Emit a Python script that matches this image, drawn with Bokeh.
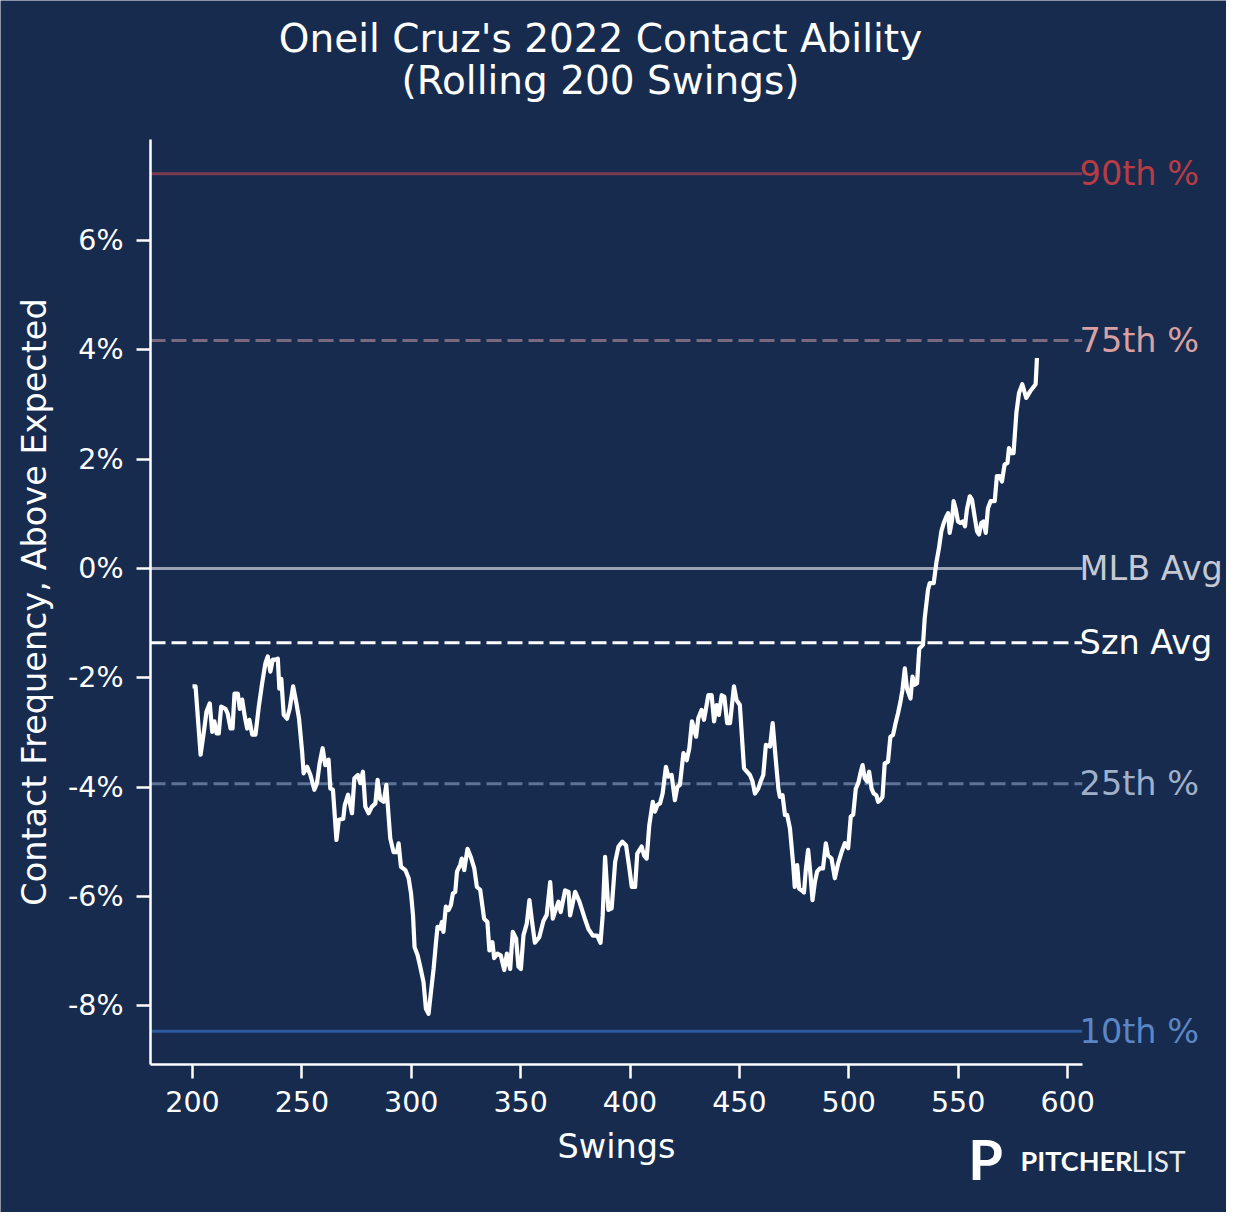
from bokeh.plotting import figure
from bokeh.models import Label, Range1d, FixedTicker, CustomJSTickFormatter
from bokeh.embed import file_html
from bokeh.resources import INLINE

BG = "#172b4f"
FONT = "DejaVu Sans"

title_lines = ["Oneil Cruz's 2022 Contact Ability", "(Rolling 200 Swings)"]
x_label = "Swings"
y_label = "Contact Frequency, Above Expected"

x_ticks = [200, 250, 300, 350, 400, 450, 500, 550, 600]
y_ticks = [-8, -6, -4, -2, 0, 2, 4, 6]
x_bounds = (180.8, 606.7)
y_bounds = (-9.078, 7.843)

swings = [
    200.0, 201.4, 203.7, 205.2, 206.4, 207.9, 209.0, 210.0, 211.0, 212.0, 213.1, 215.1, 216.1, 217.4, 218.3,
    219.2, 220.7, 221.6, 222.7, 223.9, 225.0, 226.0, 227.3, 228.8, 230.3, 231.8, 233.3, 234.4, 235.6, 236.7,
    238.0, 239.0, 239.7, 240.6, 241.7, 243.2, 244.4, 246.0, 247.5, 248.7, 250.1, 250.8, 252.4, 253.9, 255.7,
    256.9, 258.1, 259.5, 260.7, 262.2, 263.0, 264.2, 265.8, 266.9, 268.9, 269.6, 271.1, 272.9, 274.0, 275.6,
    276.7, 277.9, 279.0, 280.5, 282.0, 283.6, 284.6, 285.8, 287.4, 288.6, 289.2, 290.4, 291.9, 293.5, 294.2,
    295.3, 297.3, 298.8, 299.9, 300.8, 301.5, 302.9, 304.1, 305.6, 306.7, 307.9, 309.0, 310.2, 311.3, 312.0,
    313.2, 314.0, 314.7, 315.8, 317.0, 318.1, 319.0, 320.1, 320.9, 322.4, 323.1, 324.2, 325.7, 327.2, 328.8,
    330.0, 331.5, 333.3, 334.8, 335.7, 337.1, 337.9, 339.4, 340.9, 342.5, 343.7, 345.2, 346.4, 347.9, 349.0,
    350.1, 351.3, 352.8, 354.0, 355.1, 356.5, 358.5, 360.4, 361.9, 363.5, 364.7, 366.2, 367.3, 368.3, 370.3,
    371.9, 372.6, 374.9, 376.9, 379.5, 381.0, 383.0, 385.0, 386.5, 387.5, 388.6, 390.1, 391.6, 393.2, 394.7,
    396.5, 398.2, 399.7, 400.8, 402.3, 403.3, 405.3, 406.4, 407.6, 408.8, 410.4, 411.4, 412.5, 413.7, 414.9,
    416.4, 417.5, 419.0, 420.5, 421.6, 422.8, 424.4, 425.9, 427.1, 428.3, 430.2, 431.2, 432.7, 433.8, 435.8,
    437.3, 438.4, 439.6, 440.6, 441.9, 443.1, 444.4, 445.7, 447.5, 448.7, 450.2, 452.1, 454.8, 456.0, 457.1,
    458.6, 459.7, 460.9, 462.1, 464.0, 465.2, 466.7, 467.8, 468.5, 469.7, 470.8, 471.8, 473.1, 473.8, 474.6,
    475.3, 476.4, 477.3, 478.4, 479.5, 480.4, 481.4, 482.5, 483.4, 484.5, 485.5, 486.8, 488.2, 489.5, 490.5,
    492.1, 493.6, 495.1, 496.7, 498.2, 499.7, 500.9, 502.0, 503.2, 504.3, 505.3, 506.3, 507.3, 508.4, 509.3,
    510.4, 511.4, 512.6, 513.4, 514.4, 515.4, 516.4, 517.9, 519.0, 520.2, 521.4, 522.5, 523.6, 524.5, 525.6,
    526.6, 528.2, 529.1, 530.1, 531.2, 532.2, 533.9, 534.7, 536.2, 537.0, 538.8, 540.0, 541.2, 542.3, 543.4,
    544.6, 545.4, 546.1, 547.2, 547.9, 548.9, 549.9, 551.0, 552.2, 553.1, 554.0, 555.3, 556.3, 557.5, 558.6,
    559.5, 560.6, 561.6, 562.6, 563.6, 564.8, 566.7, 567.7, 568.9, 570.0, 571.2, 572.5, 573.2, 574.3, 575.3,
    576.6, 577.8, 579.3, 581.1, 582.9, 585.4, 586.0,
]

contact_pct = [
    -2.16, -2.16, -3.41, -2.99, -2.62, -2.47, -2.99, -2.80, -3.02, -3.02, -2.53, -2.57, -2.66, -2.93, -2.93,
    -2.29, -2.29, -2.57, -2.40, -2.71, -2.93, -2.77, -3.04, -3.04, -2.53, -2.11, -1.74, -1.61, -1.89, -1.67,
    -1.67, -1.65, -2.20, -2.02, -2.68, -2.75, -2.57, -2.16, -2.47, -2.75, -3.35, -3.75, -3.63, -3.78, -4.05,
    -3.93, -3.57, -3.29, -3.60, -3.50, -4.03, -4.05, -4.97, -4.60, -4.58, -4.33, -4.14, -4.48, -3.84, -3.78,
    -3.93, -3.72, -4.36, -4.48, -4.36, -4.30, -3.87, -4.23, -4.27, -3.96, -4.30, -4.94, -5.19, -5.19, -5.03,
    -5.46, -5.52, -5.67, -5.95, -6.35, -6.93, -7.08, -7.29, -7.57, -8.06, -8.15, -7.75, -7.33, -6.84, -6.56,
    -6.59, -6.47, -6.65, -6.19, -6.25, -6.16, -5.95, -5.92, -5.55, -5.42, -5.31, -5.52, -5.13, -5.28, -5.49,
    -5.83, -5.88, -6.41, -6.47, -6.99, -6.84, -7.13, -7.05, -7.08, -7.35, -7.05, -7.33, -6.65, -6.77, -7.29,
    -7.33, -6.71, -6.50, -6.07, -6.43, -6.85, -6.75, -6.45, -6.34, -5.74, -6.41, -6.22, -6.10, -6.29, -5.89,
    -5.92, -6.35, -5.92, -6.10, -6.43, -6.60, -6.72, -6.72, -6.85, -6.35, -5.28, -6.25, -6.22, -5.37, -5.09,
    -5.00, -5.07, -5.49, -5.83, -5.83, -5.22, -5.09, -5.25, -5.31, -4.70, -4.27, -4.45, -4.33, -4.30, -4.12,
    -3.63, -3.81, -3.78, -4.24, -4.00, -3.96, -3.38, -3.51, -3.29, -2.80, -3.08, -2.74, -2.59, -2.77, -2.32,
    -2.32, -2.80, -2.50, -2.68, -2.32, -2.35, -2.83, -2.83, -2.16, -2.41, -2.50, -3.66, -3.78, -3.90, -4.12,
    -4.03, -3.90, -3.78, -3.23, -3.26, -2.83, -3.54, -4.03, -4.18, -4.15, -4.51, -4.51, -4.76, -5.07, -5.43,
    -5.83, -5.43, -5.86, -5.89, -5.93, -5.49, -5.15, -5.61, -6.07, -5.74, -5.55, -5.49, -5.49, -5.03, -5.25,
    -5.31, -5.67, -5.40, -5.19, -5.03, -5.12, -4.54, -4.51, -4.03, -3.93, -3.75, -3.60, -3.84, -3.90, -3.72,
    -4.03, -4.12, -4.15, -4.27, -4.24, -4.18, -3.57, -3.54, -3.08, -3.05, -2.83, -2.65, -2.44, -2.23, -1.83,
    -2.20, -2.38, -1.98, -2.13, -2.10, -1.47, -1.40, -0.91, -0.39, -0.27, -0.27, 0.10, 0.37, 0.68, 0.83,
    0.95, 1.01, 0.65, 0.89, 1.23, 1.08, 0.86, 0.83, 0.86, 0.77, 1.08, 1.32, 1.26, 0.95, 0.68,
    0.62, 0.83, 0.86, 0.65, 1.10, 1.23, 1.23, 1.69, 1.69, 1.59, 1.90, 1.93, 2.20, 2.11, 2.11,
    2.85, 3.21, 3.37, 3.12, 3.24, 3.37, 3.85,
]

ref_names = ["90th %", "75th %", "MLB Avg", "Szn Avg", "25th %", "10th %"]
ref_values = [7.22, 4.17, 0.0, -1.36, -3.94, -8.47]
ref_line_colors = ["#7b3a4f", "#7a6a80", "#9aa2b4", "#ffffff", "#5d7396", "#2c5a9c"]
ref_text_colors = ["#b83c44", "#d9a0a2", "#c4c9d4", "#ffffff", "#9fb0cb", "#5b86c6"]
ref_dashes = ["solid", "15 6", "solid", "15 6", "15 6", "solid"]

W, H = 1226, 1212
# the frame covers the whole canvas; axes are pinned inside it with fixed_location
px_per_x = 2.1877
px_per_y = 54.65
x0 = 200 - 192 / px_per_x
x1 = 200 + (W - 192) / px_per_x
y1 = 567.9 / px_per_y
y0 = -(H - 567.9) / px_per_y

p = figure(width=W, height=H, output_backend="svg", toolbar_location=None,
           x_range=Range1d(x0, x1), y_range=Range1d(y0, y1),
           min_border=0, min_border_left=0, min_border_right=0, min_border_top=0, min_border_bottom=0)
p.title.visible = False
p.background_fill_color = BG
p.border_fill_color = BG
p.outline_line_color = None
p.grid.grid_line_color = None

p.xaxis.fixed_location = y_bounds[0]
p.yaxis.fixed_location = x_bounds[0]
p.xaxis.bounds = x_bounds
p.yaxis.bounds = y_bounds

for ax in (p.xaxis[0], p.yaxis[0]):
    ax.axis_line_color = "white"
    ax.axis_line_width = 2.5
    ax.major_tick_line_color = "white"
    ax.major_tick_line_width = 2.5
    ax.major_tick_out = 14
    ax.major_tick_in = 0
    ax.minor_tick_line_color = None
    ax.major_label_text_color = "white"
    ax.major_label_text_font = FONT
    ax.major_label_text_font_size = "28.5px"
    ax.axis_label_text_color = "white"
    ax.axis_label_text_font = FONT
    ax.axis_label_text_font_size = "33.5px"
    ax.axis_label_text_font_style = "normal"

p.xaxis.ticker = FixedTicker(ticks=x_ticks)
p.yaxis.ticker = FixedTicker(ticks=y_ticks)
p.yaxis.formatter = CustomJSTickFormatter(code="return tick.toFixed(0) + '%';")
p.xaxis.axis_label = x_label
p.yaxis.axis_label = y_label
p.xaxis.major_label_standoff = 12
p.yaxis.major_label_standoff = 13
p.xaxis.axis_label_standoff = 12
p.yaxis.axis_label_standoff = 11

for name, val, lc, tc, dash in zip(ref_names, ref_values, ref_line_colors, ref_text_colors, ref_dashes):
    p.segment(x0=[x_bounds[0]], y0=[val], x1=[x_bounds[1]], y1=[val],
              line_color=lc, line_width=3, line_dash=dash)
    p.add_layout(Label(x=x_bounds[1] - 1.2, y=val, text=name,
                       text_color=tc, text_font=FONT, text_font_size="33.5px",
                       text_baseline="middle", text_align="left"))

p.line(swings, contact_pct, line_color="white", line_width=4.2, line_join="round")

# title
p.add_layout(Label(x=600, y=H - 38, x_units="screen", y_units="screen", text=title_lines[0],
                   text_color="white", text_font=FONT, text_font_size="39px",
                   text_align="center", text_baseline="middle"))
p.add_layout(Label(x=600, y=H - 80, x_units="screen", y_units="screen", text=title_lines[1],
                   text_color="white", text_font=FONT, text_font_size="39px",
                   text_align="center", text_baseline="middle"))

# logo
p.add_layout(Label(x=985, y=H - 1158, x_units="screen", y_units="screen", text="P",
                   text_color="white", text_font="Lato", text_font_size="56px", text_font_style="bold",
                   text_align="center", text_baseline="middle"))
p.add_layout(Label(x=1020, y=H - 1160, x_units="screen", y_units="screen", text="PITCHER",
                   text_color="white", text_font="Lato", text_font_size="27px", text_font_style="bold",
                   text_align="left", text_baseline="middle"))
p.add_layout(Label(x=1131, y=H - 1160, x_units="screen", y_units="screen", text="LIST",
                   text_color="#e8ebf0", text_font="Lato", text_font_size="28px", text_font_style="normal",
                   text_align="left", text_baseline="middle"))

html = file_html(p, INLINE)
html = html.replace("<body>", '<body style="background-color:%s;">' % BG, 1)
open("out.html", "w").write(html)
